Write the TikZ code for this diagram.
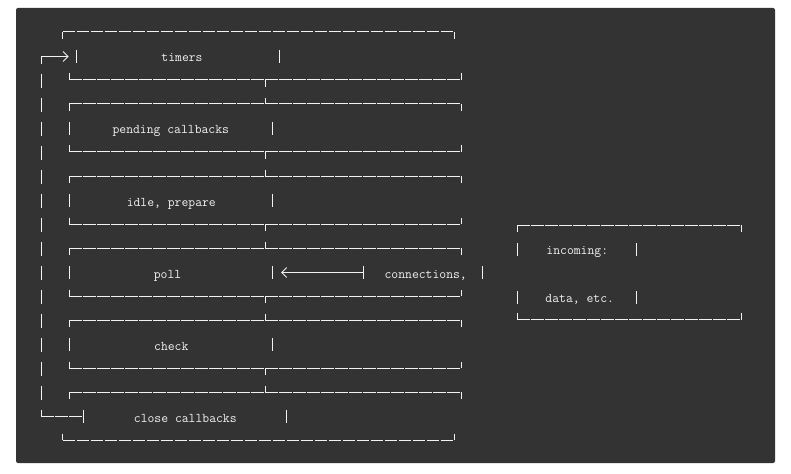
\documentclass[tikz,border=0pt]{standalone}
\usepackage{tikz}
\usetikzlibrary{arrows.meta}
\definecolor{CodeBg}{HTML}{333333}
\definecolor{Ink}{HTML}{F2F2F2}

\begin{document}
\begin{tikzpicture}[
  x=1pt,y=-1pt,
  rule/.style={draw=Ink,line width=1pt,dash pattern=on 12.5pt off 1.5pt},
  bar/.style={draw=Ink,line width=1pt},
  lead/.style={draw=Ink,line width=1pt,dash pattern=on 14pt off 10pt},
  word/.style={text=Ink,inner sep=0pt,anchor=base,font=\ttfamily\fontsize{13.3}{16}\selectfont},
  barb/.style={-{Straight Barb[length=5pt,width=10pt,line width=0.9pt]}}
]
\useasboundingbox (0,0) rectangle (791,473);
\fill[CodeBg,rounded corners=2pt] (16,8) rectangle (775,463);
% phase frames
\foreach \r/\a/\b/\c/\d in {56.5/62.7/454.3/69.3/461.3,128.5/69.3/461.3/69.3/461.3,200.5/69.3/461.3/69.3/461.3,272.5/69.3/461.3/69.3/461.3,344.5/69.3/461.3/69.3/461.3,416.5/69.3/461.3/62.7/454.3}{
  \draw[rule] (\a,\r-24.5) -- (\b,\r-24.5);
  \draw[bar] (\a,\r-17.5) -- (\a,\r-24.5) (\b,\r-24.5) -- (\b,\r-17.5);
  \draw[rule] (\c,\r+23.5) -- (\d,\r+23.5);
  \draw[bar] (\c,\r+17) -- (\c,\r+23.5) (\d,\r+23.5) -- (\d,\r+17);
}
\foreach \r in {56.5,128.5,200.5,272.5,344.5}
  \draw[bar] (265.5,\r+23.5) -- (265.5,\r+30.5) (265.5,\r+41.5) -- (265.5,\r+47.5);
% side bars
\foreach \x/\r in {76.7/56.5,279.7/56.5,69.3/128.5,272.5/128.5,69.3/200.5,272.5/200.5,69.3/272.5,272.5/272.5,69.3/344.5,272.5/344.5,83/416.5,286.3/416.5,363.3/272.5,482.3/272.5,517.3/249.5,636.7/249.5,517.3/297.5,636.7/297.5}
  \draw[bar] (\x,\r-6.5) -- (\x,\r+6.5);
% incoming frame
\draw[rule] (517.3,225) -- (741.7,225);
\draw[bar] (517.3,232) -- (517.3,225) (741.7,225) -- (741.7,232);
\draw[rule] (517.3,319.3) -- (741.7,319.3);
\draw[bar] (517.3,313) -- (517.3,319.3) (741.7,319.3) -- (741.7,313);
% labels
\node[word] (tmr) at (182,62) {timers};
\node[word] (pend) at (170.8,134) {pending callbacks};
\node[word] (idle) at (171.3,206) {idle, prepare};
\node[word] (poll) at (167.5,278) {poll};
\node[word] (chk) at (171.3,350) {check};
\node[word] (close) at (185.3,422) {close callbacks};
\node[word] (conn) at (425.7,278) {connections,};
\node[word] (inc) at (577.3,254.5) {incoming:};
\node[word] (data) at (579.7,302.5) {data, etc.};
% connectors
\coordinate (tmrL) at (76.7,56.5);
\coordinate (closeL) at (83,416.5);
\coordinate (pollR) at (272.5,272.5);
\coordinate (connL) at (363.3,272.5);
\coordinate (loopT) at (41,64);
\coordinate (loopB) at (41,410);
\draw[bar,barb] (loopT) |- ([xshift=-8pt]tmrL);
\draw[lead] ([yshift=-10pt]loopT) -- ([yshift=10pt]loopB);
\draw[bar] (loopB) -- (41,416.5);
\draw[rule] (41,416.5) -- (closeL);
\draw[bar,barb] (connL) -- ([xshift=8.5pt]pollR);
\end{tikzpicture}
\end{document}
